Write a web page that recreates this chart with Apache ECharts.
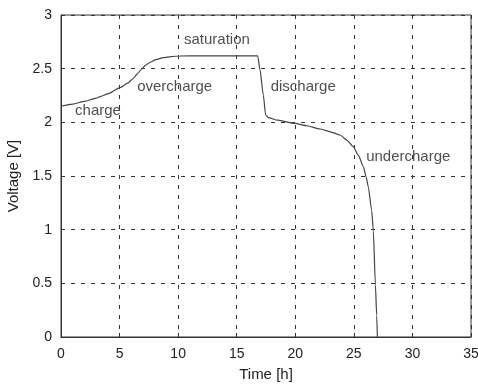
<!doctype html>
<html>
    <head>
        <meta charset="utf-8">
        <title>Voltage vs time</title>
        <style>
            html, body { margin: 0; padding: 0; background: #fff; }
            #main { width: 478px; height: 385px; }
        </style>
    </head>
    <body>
        <div id="main"></div>
        <script src="https://cdn.jsdelivr.net/npm/echarts@6/dist/echarts.min.js"></script>
        <script>
            var chart = echarts.init(document.getElementById('main'));

            // time [h] and voltage [V]
            var timeH = [0, 1, 2, 3, 3.33, 4, 5.04, 5.7, 6.17, 6.5, 6.89, 7.2, 7.6, 8.1, 8.73, 9.4, 10.16, 12, 14, 16.79,
                         16.99, 17.27, 17.47, 17.7, 18.5, 19.98, 21, 22.11, 23, 23.82, 24.4, 24.95,
                         25.4, 25.81, 26.05, 26.23, 26.52, 26.66, 26.84, 26.95, 27.01];
            var voltage = [2.15, 2.17, 2.195, 2.225, 2.239, 2.265, 2.323, 2.365, 2.41, 2.45, 2.497, 2.53, 2.559, 2.585, 2.602, 2.613, 2.618, 2.62, 2.62, 2.62,
                           2.488, 2.255, 2.068, 2.043, 2.02, 1.99, 1.968, 1.938, 1.912, 1.882, 1.835, 1.773,
                           1.69, 1.587, 1.49, 1.40, 1.18, 0.997, 0.484, 0.2, 0];

            var labelNames = ['charge', 'overcharge', 'saturation', 'discharge', 'undercharge'];
            var labelTime = [1.2, 6.5, 10.5, 17.9, 26.05];
            var labelVolt = [2.106, 2.33, 2.77, 2.33, 1.68];

            var xTicks = [0, 5, 10, 15, 20, 25, 30, 35];
            var yTicks = [0, 0.5, 1, 1.5, 2, 2.5, 3];

            var font = 'Liberation Sans, Arial, sans-serif';

            chart.setOption({
                backgroundColor: '#fff',
                animation: false,
                grid: {
                    left: 61,
                    right: 7,
                    top: 15,
                    bottom: 48,
                    outerBoundsMode: 'none',
                    containLabel: false,
                    show: true,
                    borderColor: '#333',
                    borderWidth: 1
                },
                xAxis: {
                    type: 'value',
                    min: xTicks[0],
                    max: xTicks[xTicks.length - 1],
                    interval: 5,
                    name: 'Time [h]',
                    nameLocation: 'middle',
                    nameGap: 30,
                    nameTextStyle: { color: '#222', fontSize: 15, fontFamily: font },
                    axisLine: { lineStyle: { color: '#333' } },
                    axisTick: { inside: true, length: 4, lineStyle: { color: '#333' } },
                    axisLabel: { color: '#222', fontSize: 14, fontFamily: font, margin: 10 },
                    splitLine: { show: true, lineStyle: { color: '#333', type: [4, 6], width: 1 } }
                },
                yAxis: {
                    type: 'value',
                    min: yTicks[0],
                    max: yTicks[yTicks.length - 1],
                    interval: 0.5,
                    name: 'Voltage [V]',
                    nameLocation: 'middle',
                    nameGap: 40,
                    nameTextStyle: { color: '#222', fontSize: 15, fontFamily: font },
                    axisLine: { show: true, lineStyle: { color: '#333' } },
                    axisTick: { show: true, inside: true, length: 4, lineStyle: { color: '#333' } },
                    axisLabel: { color: '#222', fontSize: 14, fontFamily: font, margin: 9 },
                    splitLine: { show: true, lineStyle: { color: '#333', type: [4, 6], width: 1 } }
                },
                series: [{
                    type: 'line',
                    showSymbol: false,
                    smooth: 0.2,
                    smoothMonotone: 'x',
                    lineStyle: { color: '#444', width: 1.2 },
                    data: timeH.map(function (t, i) { return [t, voltage[i]]; })
                }, {
                    type: 'scatter',
                    symbolSize: 0,
                    label: {
                        show: true,
                        position: 'right',
                        distance: 0,
                        color: '#222',
                        fontSize: 15,
                        fontFamily: font,
                        formatter: function (p) { return p.name; }
                    },
                    data: labelNames.map(function (n, i) {
                        return { name: n, value: [labelTime[i], labelVolt[i]] };
                    })
                }]
            });

            window.onresize = chart.resize;
        </script>
    </body>
</html>
